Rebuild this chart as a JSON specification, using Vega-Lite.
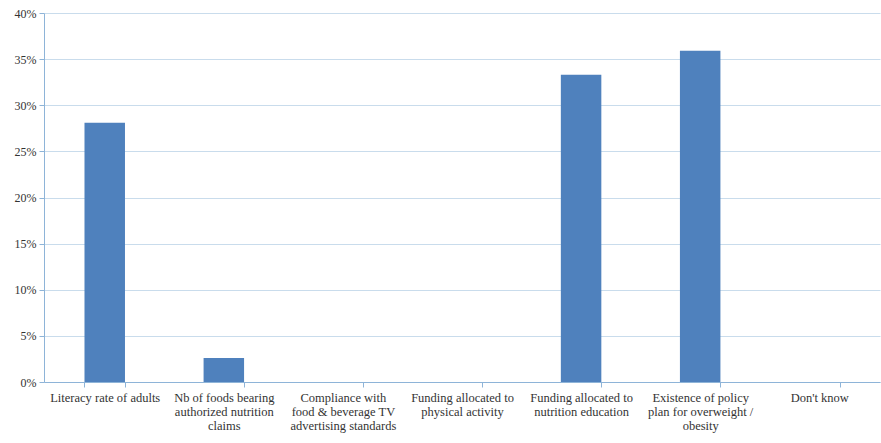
{
  "$schema": "https://vega.github.io/schema/vega-lite/v6.json",
  "autosize": {"type": "none"},
  "width": 836,
  "height": 369,
  "padding": {"left": 44, "top": 13, "right": 1, "bottom": 61},
  "background": "white",
  "data": {"values": [
    {"category": "Literacy rate of adults", "value": 0.281},
    {"category": "Nb of foods bearing|authorized nutrition|claims", "value": 0.026},
    {"category": "Compliance with|food & beverage TV|advertising standards", "value": 0},
    {"category": "Funding allocated to|physical activity", "value": 0},
    {"category": "Funding allocated to|nutrition education", "value": 0.333},
    {"category": "Existence of policy|plan for overweight /|obesity", "value": 0.359},
    {"category": "Don't know", "value": 0}
  ]},
  "mark": {"type": "bar", "color": "#4F81BD"},
  "encoding": {
    "x": {
      "field": "category", "type": "nominal", "sort": null, "title": null,
      "scale": {"paddingInner": 0.66, "paddingOuter": 0.34},
      "axis": {
        "labelAngle": 0, "labelExpr": "split(datum.label, '|')",
        "labelFont": "Liberation Serif", "labelFontSize": 12.5, "labelColor": "#333333",
        "labelLineHeight": 14, "labelPadding": 4, "labelLimit": 130,
        "tickBand": "extent", "tickColor": "#8EB4D8", "tickSize": 5,
        "domainColor": "#8EB4D8", "grid": false
      }
    },
    "y": {
      "field": "value", "type": "quantitative", "title": null,
      "scale": {"domain": [0, 0.4]},
      "axis": {
        "format": ".0%", "values": [0, 0.05, 0.1, 0.15, 0.2, 0.25, 0.3, 0.35, 0.4],
        "labelFont": "Liberation Serif", "labelFontSize": 12, "labelColor": "#333333",
        "tickColor": "#8EB4D8", "tickSize": 5, "domainColor": "#8EB4D8",
        "gridColor": "#C9DCEC", "labelPadding": 3
      }
    }
  },
  "config": {"view": {"stroke": null}}
}
